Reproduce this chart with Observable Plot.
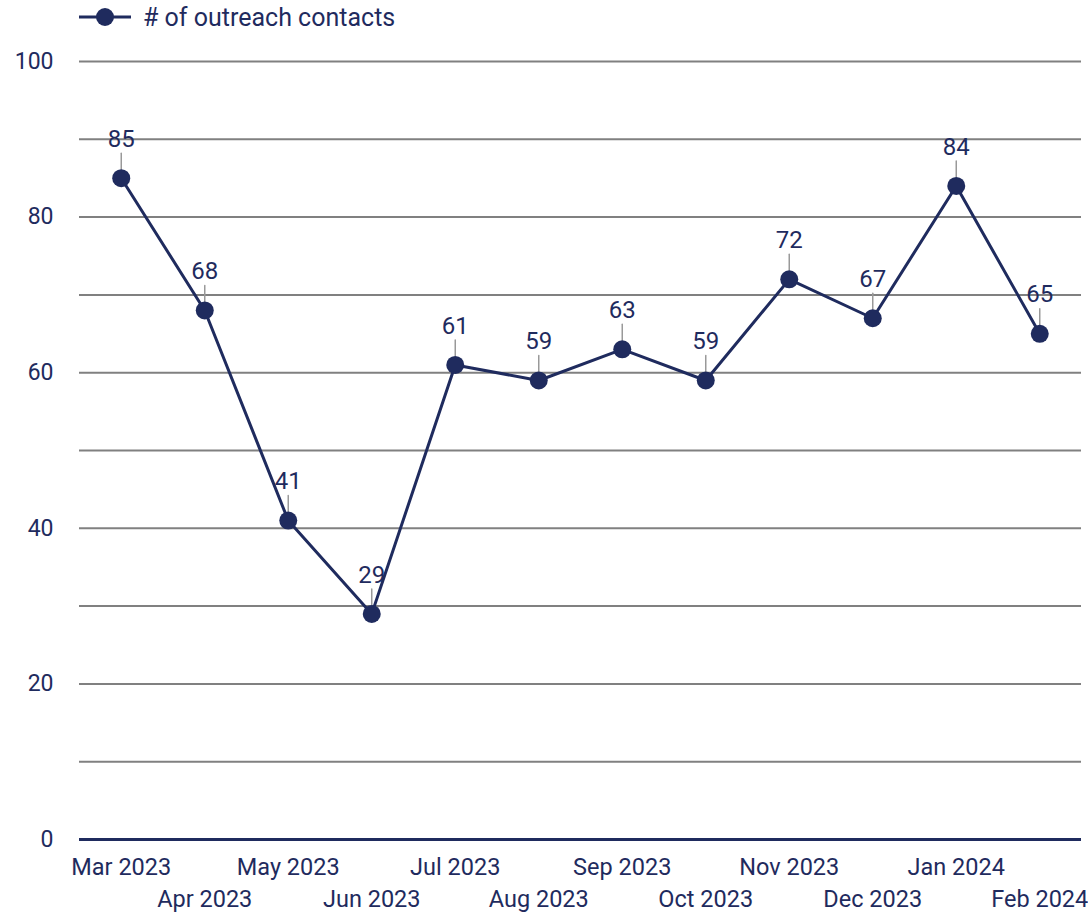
<!DOCTYPE html>
<html>
<head>
<meta charset="utf-8">
<script src="https://cdn.jsdelivr.net/npm/d3@7"></script>
<script src="https://cdn.jsdelivr.net/npm/@observablehq/plot@0.6"></script>
<style>
  html, body { margin: 0; padding: 0; background: #fff; }
  body { width: 1088px; height: 913px; overflow: hidden; font-family: Roboto, "Noto Sans", sans-serif; }
  #legend { height: 36px; position: relative; }
  #legend svg { position: absolute; left: 0; top: 0; }
  #legend span { position: absolute; left: 143px; top: 3px; font-size: 25px; color: #1f2b5e; line-height: 30px; }
</style>
</head>
<body>
<div id="legend">
  <svg width="140" height="36"><line x1="79" x2="131" y1="17" y2="17" stroke="#1f2b5e" stroke-width="3"/><circle cx="105" cy="17" r="9" fill="#1f2b5e"/></svg>
  <span># of outreach contacts</span>
</div>
<div id="chart"></div>
<script>
const months = ["Mar 2023","Apr 2023","May 2023","Jun 2023","Jul 2023","Aug 2023","Sep 2023","Oct 2023","Nov 2023","Dec 2023","Jan 2024","Feb 2024"];
const contacts = [85, 68, 41, 29, 61, 59, 63, 59, 72, 67, 84, 65];
const yTicks = [0, 20, 40, 60, 80, 100];
const gridLines = [10, 20, 30, 40, 50, 60, 70, 80, 90, 100];

const navy = "#1f2b5e";
const data = months.map((m, i) => ({month: m, value: contacts[i]}));
const rowA = months.filter((m, i) => i % 2 === 0);
const rowB = months.filter((m, i) => i % 2 === 1);

const chart = Plot.plot({
  width: 1088,
  height: 877,
  marginLeft: 79,
  marginRight: 7,
  marginTop: 25,
  marginBottom: 74,
  style: {fontFamily: "Roboto, sans-serif", color: navy, background: "#fff"},
  x: {type: "point", domain: months, padding: 0.5, round: false, label: null},
  y: {domain: [0, 100], label: null},
  marks: [
    Plot.ruleY(gridLines, {stroke: "#808080", strokeWidth: 2}),
    Plot.ruleY([0], {stroke: navy, strokeWidth: 3}),
    Plot.axisY(yTicks, {tickSize: 0, tickPadding: 26, fontSize: 23, fill: navy, label: null}),
    Plot.axisX(rowA, {tickSize: 0, tickPadding: 19, fontSize: 23.5, fill: navy, label: null}),
    Plot.axisX(rowB, {tickSize: 0, tickPadding: 51, fontSize: 23.5, fill: navy, label: null}),
    Plot.vector(data, {x: "month", y: "value", length: 16, rotate: 0, anchor: "start", dy: -9, stroke: "#999", strokeWidth: 1.5,
      shape: {draw(ctx, l) { ctx.moveTo(0, 0); ctx.lineTo(0, -l); }}}),
    Plot.line(data, {x: "month", y: "value", stroke: navy, strokeWidth: 3}),
    Plot.dot(data, {x: "month", y: "value", r: 9, fill: navy, stroke: "none"}),
    Plot.text(data, {x: "month", y: "value", text: d => String(d.value), dy: -39, fontSize: 24, fill: navy})
  ]
});
document.getElementById("chart").appendChild(chart);
</script>
</body>
</html>
